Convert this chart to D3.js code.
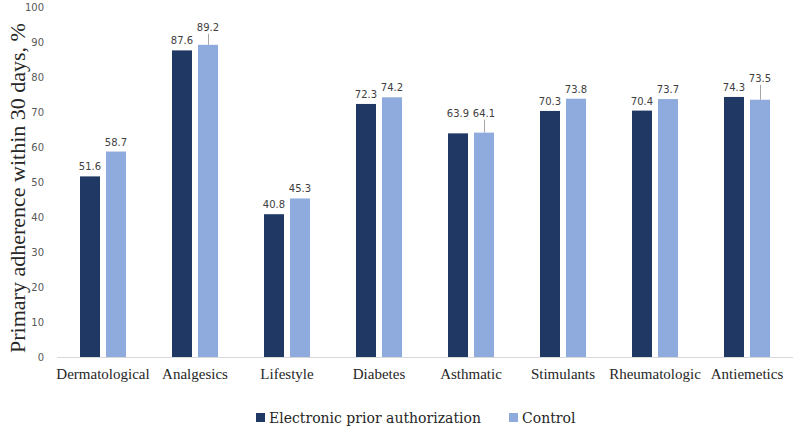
<!DOCTYPE html>
<html><head><meta charset="utf-8">
<script src="https://cdn.jsdelivr.net/npm/d3@7"></script>
<style>body{margin:0;background:#fff}svg{display:block}
.serif{font-family:"Liberation Serif","Times New Roman",serif}
.dserif{font-family:"DejaVu Serif",serif}
</style>
</head><body>
<svg id="c" width="800" height="432"></svg>
<script>
const categories = ["Dermatological","Analgesics","Lifestyle","Diabetes","Asthmatic","Stimulants","Rheumatologic","Antiemetics"];
const epaValues = [51.6, 87.6, 40.8, 72.3, 63.9, 70.3, 70.4, 74.3];
const controlValues = [58.7, 89.2, 45.3, 74.2, 64.1, 73.8, 73.7, 73.5];
const seriesNames = ["Electronic prior authorization","Control"];
const yTicks = [0,10,20,30,40,50,60,70,80,90,100];
// extra label lift (px) for displaced labels, and whether a leader line is drawn
const epaLift = [0,0,0,0,10,0,0,0];
const ctrlLift = [0,8,0,0,10,0,0,12];
const ctrlLeader = [false,true,false,false,true,false,false,true];

const colors = ["#203864","#8FAADC"];
const svg = d3.select("#c");
const x = d3.scaleBand().domain(categories).range([57,793]).paddingInner(0).paddingOuter(0);
const y = d3.scaleLinear().domain([0,100]).range([357,7]);
const bw = 20, gap = 6;

// y tick labels
svg.append("g").selectAll("text").data(yTicks).join("text")
  .attr("x",44).attr("y",d=>y(d)).attr("dy","0.35em").attr("text-anchor","end")
  .style("font-family","'DejaVu Sans', sans-serif").style("font-size","10px").attr("fill","#595959").text(d=>d);

// axis line
svg.append("line").attr("x1",57).attr("x2",793).attr("y1",y(0)+0.5).attr("y2",y(0)+0.5)
  .attr("stroke","#D9D9D9").attr("stroke-width",1);

const series = [epaValues, controlValues];
const lifts = [epaLift, ctrlLift];
series.forEach((vals,si)=>{
  const g = svg.append("g");
  const cx = (d,i)=> x(categories[i]) + x.bandwidth()/2 + (si===0 ? -(gap/2+bw) : gap/2);
  g.selectAll("rect").data(vals).join("rect")
    .attr("x",(d,i)=>cx(d,i)).attr("width",bw)
    .attr("y",d=>y(d)).attr("height",d=>y(0)-y(d))
    .attr("fill",colors[si]);
  g.selectAll("text").data(vals).join("text")
    .attr("x",(d,i)=>cx(d,i)+bw/2).attr("y",(d,i)=>y(d)-6-lifts[si][i])
    .attr("text-anchor","middle").style("font-family","'DejaVu Sans', sans-serif").style("font-size","10px")
    .attr("fill","#404040").text(d=>d.toFixed(1));
  if(si===1){
    g.selectAll("line").data(vals.map((v,i)=>({v,i})).filter(o=>ctrlLeader[o.i])).join("line")
      .attr("x1",o=>cx(o.v,o.i)+bw/2+0.5).attr("x2",o=>cx(o.v,o.i)+bw/2+0.5)
      .attr("y1",o=>y(o.v)).attr("y2",o=>y(o.v)-6-lifts[1][o.i]+3)
      .attr("stroke","#A6A6A6").attr("stroke-width",1);
  }
});

// category labels
svg.append("g").selectAll("text").data(categories).join("text")
  .attr("class","serif")
  .attr("x",d=>x(d)+x.bandwidth()/2).attr("y",379).attr("text-anchor","middle")
  .style("font-size","15px").attr("fill","#262626").text(d=>d);

// y axis title
svg.append("text").attr("class","serif").attr("transform","translate(25,188) rotate(-90)").attr("text-anchor","middle")
  .style("font-size","22px").attr("fill","#262626")
  .text("Primary adherence within 30 days, %");

// legend
const legend = svg.append("g");
const legX = [256, 509];
seriesNames.forEach((n,i)=>{
  legend.append("rect").attr("x",legX[i]).attr("y",413).attr("width",9).attr("height",9).attr("fill",colors[i]);
  legend.append("text").attr("class","dserif").attr("x",legX[i]+13).attr("y",423)
    .style("font-size","14px").attr("fill","#262626").text(n);
});
</script>
</body></html>
